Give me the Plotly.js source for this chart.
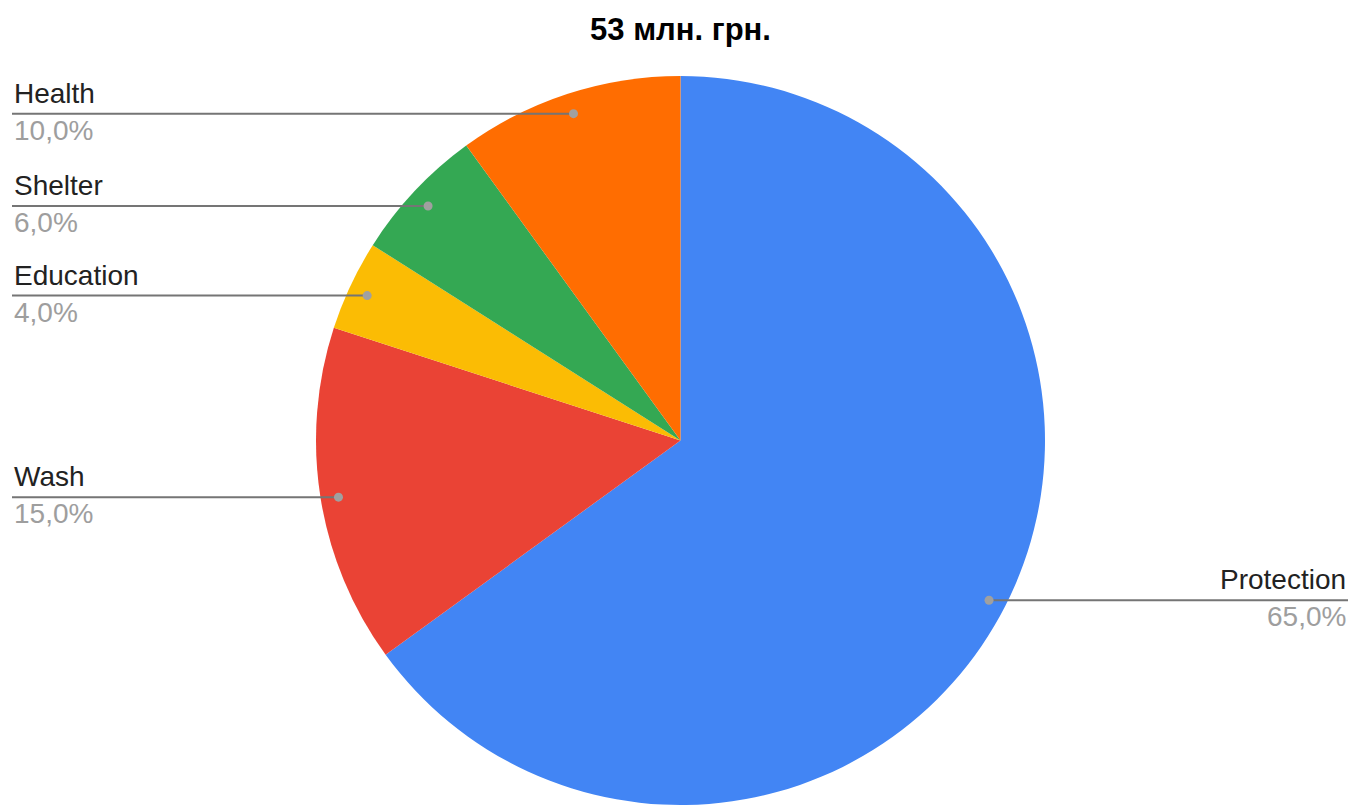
<!DOCTYPE html>
<html>
<head>
<meta charset="utf-8">
<script src="https://cdn.plot.ly/plotly-3.0.1.min.js"></script>
<style>html,body{margin:0;padding:0;background:#fff;}</style>
</head>
<body>
<div id="chart" style="width:1354px;height:807px;"></div>
<script>
const categories = ["Protection", "Wash", "Education", "Shelter", "Health"];
const shares = [65, 15, 4, 6, 10];
const pctLabels = ["65,0%", "15,0%", "4,0%", "6,0%", "10,0%"];
const colors = ["#4285F4", "#EA4335", "#FBBC04", "#34A853", "#FF6D01"];
const titleText = "53 млн. грн.";

const W = 1354, H = 807;
const cx = 680.5, cy = 440.5, R = 364.5;
const labelCy = 443;
const leftEdge = 12, rightEdge = 1348;
const FONT = "Liberation Sans, Arial, sans-serif";

const total = shares.reduce((a, b) => a + b, 0);
const annotations = [];
const shapes = [];
const px = x => x / W;
const py = y => 1 - y / H;

let cum = 0;
shares.forEach((v, i) => {
  const mid = (cum + v / 2) / total;
  cum += v;
  const ang = mid * 2 * Math.PI;
  const dx = cx + 0.95 * R * Math.sin(ang);
  const dy = labelCy - 0.95 * R * Math.cos(ang);
  const right = Math.sin(ang) > 0;
  const ex = right ? rightEdge : leftEdge;
  shapes.push({type: "line", xref: "paper", yref: "paper",
    x0: px(dx), y0: py(dy), x1: px(ex), y1: py(dy),
    line: {color: "#757575", width: 2}});
  shapes.push({type: "circle", xref: "paper", yref: "paper",
    x0: px(dx - 4.5), x1: px(dx + 4.5), y0: py(dy - 4.5), y1: py(dy + 4.5),
    fillcolor: "#a0a0a0", line: {width: 0}});
  annotations.push({xref: "paper", yref: "paper", x: px(ex), y: py(dy - 3),
    xanchor: right ? "right" : "left", yanchor: "bottom", showarrow: false,
    text: categories[i], font: {family: FONT, size: 28, color: "#222222"}});
  annotations.push({xref: "paper", yref: "paper", x: px(ex), y: py(dy - 1),
    xanchor: right ? "right" : "left", yanchor: "top", showarrow: false,
    text: pctLabels[i], font: {family: FONT, size: 28, color: "#9e9e9e"}});
});

const data = [{
  type: "pie",
  labels: categories,
  values: shares,
  sort: false,
  direction: "clockwise",
  rotation: 0,
  textinfo: "none",
  hoverinfo: "label+percent",
  marker: {colors: colors, line: {width: 0}},
  domain: {x: [(cx - R) / W, (cx + R) / W], y: [py(cy + R), py(cy - R)]},
  showlegend: false
}];

const layout = {
  width: W, height: H,
  margin: {l: 0, r: 0, t: 0, b: 0},
  paper_bgcolor: "#ffffff",
  title: {text: "<b>" + titleText + "</b>", x: px(cx), y: py(29), xanchor: "center", yanchor: "middle",
    font: {family: FONT, size: 31, color: "#000000"}},
  shapes: shapes,
  annotations: annotations,
  showlegend: false
};

Plotly.newPlot("chart", data, layout, {displayModeBar: false, staticPlot: true});
</script>
</body>
</html>
